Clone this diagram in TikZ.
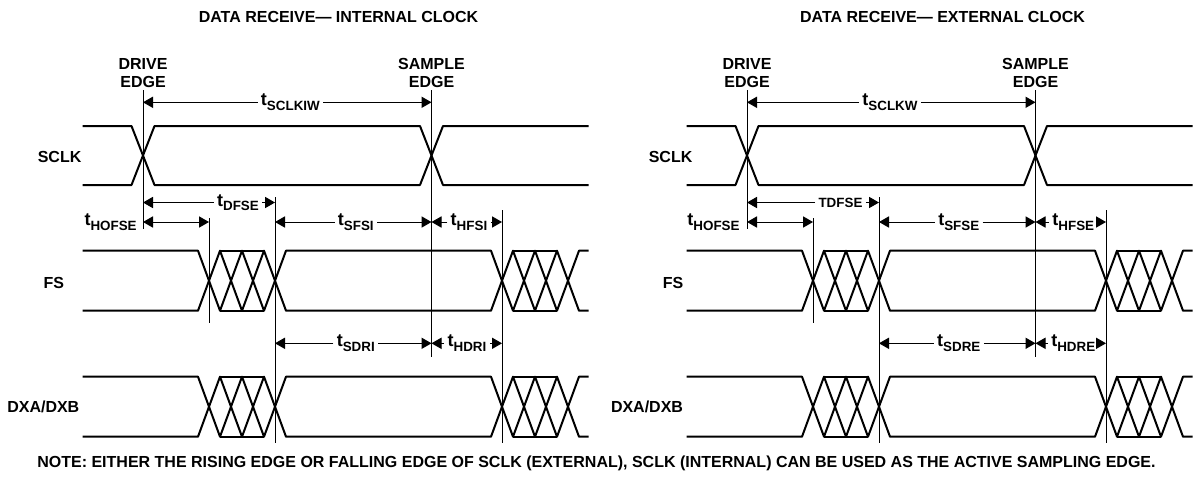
\documentclass[tikz,border=0pt]{standalone}
\usepackage{fontspec}
\setmainfont{Liberation Sans}
\usetikzlibrary{arrows.meta}
\newcommand{\tsub}[1]{{\fontsize{9}{10}\selectfont t}\raisebox{-2.2pt}{\fontsize{6.7}{7}\selectfont #1}}

\begin{document}
\begin{tikzpicture}[x=0.5pt,y=-0.5pt,
    font=\fontsize{8}{9.2}\selectfont\bfseries,
    wave/.style={line width=1pt,line join=round},
    guide/.style={line width=0.5pt},
    dim/.style={line width=0.5pt,-{Triangle[length=5pt,width=5.6pt]}},
    dimboth/.style={line width=0.5pt,{Triangle[length=5pt,width=5.6pt]}-{Triangle[length=5pt,width=5.6pt]}},
    tlab/.style={fill=white,inner sep=1.5pt}]
    \useasboundingbox (0,0) rectangle (1195,477);

    % both panels share the same waveforms
    \foreach \p/\dx in {L/0,R/604}{
        \begin{scope}[shift={(\dx,0)}]
            % SCLK
            \draw[wave] (82.7,126) -- (131.5,126) -- (154.5,185) -- (420,185) -- (443,126) -- (588.5,126);
            \draw[wave] (82.7,185) -- (131.5,185) -- (154.5,126) -- (420,126) -- (443,185) -- (588.5,185);
            % FS, DXA/DXB
            \foreach \T/\B in {250.7/310.7,376.7/436.7}{
                \draw[wave] (82.7,\T) -- (198,\T) -- (220,\B) -- (242,\T) -- (264,\B) -- (286,\T) -- (491,\T)
                    -- (513,\B) -- (535,\T) -- (557,\B) -- (579,\T) -- (588.5,\T);
                \draw[wave] (82.7,\B) -- (198,\B) -- (220,\T) -- (242,\B) -- (264,\T) -- (286,\B) -- (491,\B)
                    -- (513,\T) -- (535,\B) -- (557,\T) -- (579,\B) -- (588.5,\B);
                \draw[wave] (220,\T) -- (264,\T) (220,\B) -- (264,\B);
                \draw[wave] (513,\T) -- (557,\T) (513,\B) -- (557,\B);
            }
            % edges
            \coordinate (drv\p) at (143,90);
            \coordinate (drvb\p) at (143,229);
            \coordinate (smp\p) at (431.5,90);
            \coordinate (smpb\p) at (431.5,357);
            \coordinate (hof\p) at (209,218);
            \coordinate (hofb\p) at (209,323);
            \coordinate (dfs\p) at (275,197);
            \coordinate (dfsb\p) at (275,443);
            \coordinate (hld\p) at (502,210);
            \coordinate (hldb\p) at (502,443);
            \draw[guide] (drv\p) -- (drvb\p);
            \draw[guide] (smp\p) -- (smpb\p);
            \draw[guide] (hof\p) -- (hofb\p);
            \draw[guide] (dfs\p) -- (dfsb\p);
            \draw[guide] (hld\p) -- (hldb\p);
            \node[anchor=south,align=center,inner sep=1pt] (drvtxt\p) at (drv\p) {DRIVE\\EDGE};
            \node[anchor=south,align=center,inner sep=1pt] (smptxt\p) at (smp\p) {SAMPLE\\EDGE};
        \end{scope}
    }

    \node (ttlL) at (338.5,17) {DATA RECEIVE— INTERNAL CLOCK};
    \node (ttlR) at (942.5,17) {DATA RECEIVE— EXTERNAL CLOCK};

    \node (sclkL) at (59.6,157) {SCLK};
    \node (fsL) at (53.8,283) {FS};
    \node (dxL) at (43.3,406.7) {DXA/DXB};
    \node (sclkR) at (670.6,157) {SCLK};
    \node (fsR) at (673,283) {FS};
    \node (dxR) at (647,406.7) {DXA/DXB};

    % internal clock
    \node[tlab] (sclkiw) at (290.4,102.3) {\tsub{SCLKIW}};
    \draw[dim] (sclkiw) -- (drvL |- sclkiw);
    \draw[dim] (sclkiw) -- (smpL |- sclkiw);
    \node[tlab] (dfseL) at (238,202.5) {\tsub{DFSE}};
    \draw[dim] (dfseL) -- (drvL |- dfseL);
    \draw[dim] (dfseL) -- (dfsL |- dfseL);
    \node[tlab] (hofseL) at (110.6,222) {\tsub{HOFSE}};
    \draw[dimboth] (drvL |- hofseL) -- (hofL |- hofseL);
    \node[tlab] (sfsi) at (355.8,222) {\tsub{SFSI}};
    \draw[dim] (sfsi) -- (dfsL |- sfsi);
    \draw[dim] (sfsi) -- (smpL |- sfsi);
    \node[tlab] (hfsi) at (469,222) {\tsub{HFSI}};
    \draw[dim] (hfsi) -- (smpL |- hfsi);
    \draw[dim] (hfsi) -- (hldL |- hfsi);
    \node[tlab] (sdri) at (355.8,343.3) {\tsub{SDRI}};
    \draw[dim] (sdri) -- (dfsL |- sdri);
    \draw[dim] (sdri) -- (smpL |- sdri);
    \node[tlab] (hdri) at (467,343.3) {\tsub{HDRI}};
    \draw[dim] (hdri) -- (smpL |- hdri);
    \draw[dim] (hdri) -- (hldL |- hdri);

    % external clock
    \node[tlab] (sclkw) at (890,102.3) {\tsub{SCLKW}};
    \draw[dim] (sclkw) -- (drvR |- sclkw);
    \draw[dim] (sclkw) -- (smpR |- sclkw);
    \node[tlab,font=\fontsize{6.7}{7}\selectfont\bfseries] (tdfse) at (840.5,202.5) {TDFSE};
    \draw[dim] (tdfse) -- (drvR |- tdfse);
    \draw[dim] (tdfse) -- (dfsR |- tdfse);
    \node[tlab] (hofseR) at (713.5,222) {\tsub{HOFSE}};
    \draw[dimboth] (drvR |- hofseR) -- (hofR |- hofseR);
    \node[tlab] (sfse) at (958.8,222) {\tsub{SFSE}};
    \draw[dim] (sfse) -- (dfsR |- sfse);
    \draw[dim] (sfse) -- (smpR |- sfse);
    \node[tlab] (hfse) at (1073.3,222) {\tsub{HFSE}};
    \draw[dim] (hfse) -- (smpR |- hfse);
    \draw[dim] (hfse) -- (hldR |- hfse);
    \node[tlab] (sdre) at (958.8,343.3) {\tsub{SDRE}};
    \draw[dim] (sdre) -- (dfsR |- sdre);
    \draw[dim] (sdre) -- (smpR |- sdre);
    \node[tlab] (hdre) at (1073.3,343.3) {\tsub{HDRE}};
    \draw[dim] (hdre) -- (smpR |- hdre);
    \draw[dim] (hdre) -- (hldR |- hdre);

    \node (note) at (596.5,463) {NOTE: EITHER THE RISING EDGE OR FALLING EDGE OF SCLK (EXTERNAL), SCLK (INTERNAL) CAN BE USED AS THE ACTIVE SAMPLING EDGE.};
\end{tikzpicture}
\end{document}
